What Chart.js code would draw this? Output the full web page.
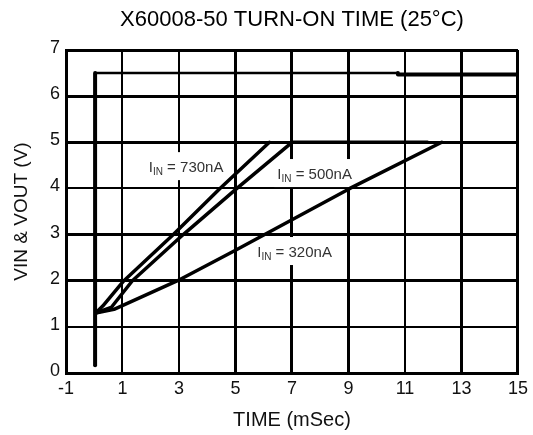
<!DOCTYPE html>
<html><head><meta charset="utf-8">
<script src="https://cdn.jsdelivr.net/npm/chart.js@4.4.1/dist/chart.umd.min.js"></script>
<style>html,body{margin:0;padding:0;background:#fff}#wrap{width:533px;height:435px}</style>
</head><body><div id="wrap"><canvas id="c" width="533" height="435"></canvas></div>
<script>
// ---- data ----
const xTicks = [-1, 1, 3, 5, 7, 9, 11, 13, 15];
const yTicks = [0, 1, 2, 3, 4, 5, 6, 7];
const vinTime = [0.03, 0.03, 10.75, 10.75, 15];
const vinVolt = [0.17, 6.5, 6.5, 6.47, 6.47];
const v730Time = [0.05, 0.3, 1.05, 2.8, 4.45, 6.2];
const v730Volt = [1.3, 1.45, 2.0, 3.0, 4.0, 5.0];
const v500Time = [0.05, 0.6, 1.35, 3.15, 5.05, 7.0, 11.8];
const v500Volt = [1.3, 1.42, 2.0, 3.0, 4.0, 5.0, 5.0];
const v320Time = [0.05, 0.7, 2.95, 5.0, 9.05, 12.3];
const v320Volt = [1.3, 1.38, 2.0, 2.66, 4.0, 5.0];
const curveLabels = ['730nA', '500nA', '320nA'];

const FONT = '"Liberation Sans", Arial, Helvetica, sans-serif';
const pts = (xs, ys) => xs.map((v, i) => ({x: v, y: ys[i]}));

// label anchors (left edge time, centre voltage)
const labelAnchors = [
  {t: 1.93, v: 4.44},
  {t: 6.48, v: 4.29},
  {t: 5.77, v: 2.60}
];

const labelPlugin = {
  id: 'curveLabels',
  beforeDatasetsDraw(chart) {
    const {ctx, scales: {x, y}} = chart;
    curveLabels.forEach((txt, i) => {
      const a = labelAnchors[i];
      const px = x.getPixelForValue(a.t);
      const py = y.getPixelForValue(a.v);
      ctx.save();
      ctx.font = '15px ' + FONT;
      const w1 = ctx.measureText('I').width;
      ctx.font = '10px ' + FONT;
      const w2 = ctx.measureText('IN').width;
      ctx.font = '15px ' + FONT;
      const rest = ' = ' + txt;
      const w3 = ctx.measureText(rest).width;
      ctx.fillStyle = '#fff';
      ctx.fillRect(px - 3, py - 16, w1 + w2 + w3 + 6, 28);
      ctx.fillStyle = '#333';
      ctx.textBaseline = 'middle';
      ctx.textAlign = 'left';
      ctx.fillText('I', px, py);
      ctx.font = '10px ' + FONT;
      ctx.fillText('IN', px + w1, py + 4);
      ctx.font = '15px ' + FONT;
      ctx.fillText(rest, px + w1 + w2, py);
      ctx.restore();
    });
  }
};

const lineDs = (data, w) => ({
  data, borderColor: '#000', borderWidth: w, pointRadius: 0, tension: 0,
  borderCapStyle: 'round', borderJoinStyle: 'round', fill: false
});

const vinDs = lineDs(pts(vinTime, vinVolt), 4);
vinDs.segment = {borderWidth: c => (c.p0DataIndex === 1 ? 2.5 : 4)};

new Chart(document.getElementById('c'), {
  type: 'line',
  data: {
    datasets: [
      vinDs,
      lineDs(pts(v730Time, v730Volt), 3.5),
      lineDs(pts(v500Time, v500Volt), 3.5),
      lineDs(pts(v320Time, v320Volt), 3.5)
    ]
  },
  options: {
    responsive: false,
    animation: false,
    devicePixelRatio: 1,
    layout: {padding: {top: 0, right: 12, left: 0, bottom: 0}},
    plugins: {
      legend: {display: false},
      tooltip: {enabled: false},
      title: {
        display: true, text: 'X60008-50 TURN-ON TIME (25°C)', fullSize: false,
        color: '#000', font: {family: FONT, size: 22, weight: 'normal'},
        padding: {top: 7, bottom: 16.6}
      }
    },
    scales: {
      x: {
        type: 'linear', min: -1, max: 15,
        afterBuildTicks: s => { s.ticks = xTicks.map(v => ({value: v})); },
        afterFit: s => { s.height = 62; },
        grid: {
          color: '#000', drawTicks: false,
          lineWidth: c => ([1, 3, 11].includes(c.tick && c.tick.value) ? 2 : 3)
        },
        border: {display: true, color: '#000', width: 3},
        ticks: {color: '#111', font: {family: FONT, size: 18}, padding: 5, maxRotation: 0},
        title: {display: true, text: 'TIME (mSec)', color: '#111',
          font: {family: FONT, size: 20}, padding: {top: 0, bottom: 3}}
      },
      y: {
        type: 'linear', min: 0, max: 7,
        afterBuildTicks: s => { s.ticks = yTicks.map(v => ({value: v})); },
        afterFit: s => { s.width = 66; },
        grid: {
          color: '#000', drawTicks: false,
          lineWidth: c => ([1, 4].includes(c.tick && c.tick.value) ? 2 : 3)
        },
        border: {display: true, color: '#000', width: 3},
        ticks: {color: '#111', padding: 6, labelOffset: -2, font: {family: FONT, size: 18}},
        title: {display: true, text: 'VIN & VOUT (V)', color: '#111',
          font: {family: FONT, size: 19}, padding: {top: 10.6, bottom: 0}}
      }
    }
  },
  plugins: [labelPlugin]
});
</script>
</body></html>
